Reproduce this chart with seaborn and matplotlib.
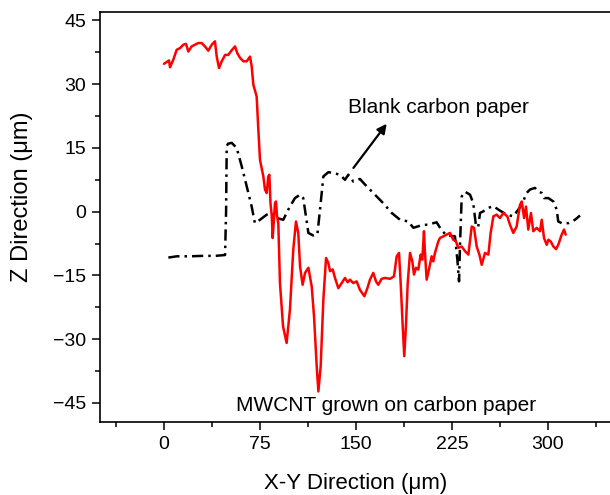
import matplotlib
matplotlib.use("Agg")
import matplotlib.pyplot as plt
import seaborn as sns
import pandas as pd
from matplotlib.ticker import MultipleLocator

# ---- data ----
mwcnt_x = [0, 3.9, 4.7, 7.3, 9.9, 12.5, 15.1, 17.2, 19, 21.6, 24.2, 26.8, 29.4, 32, 34.6, 37.3,
           39.8, 41.2, 43, 45.1, 47.7, 50.2, 52.9, 55.5, 57.3, 59.4, 62, 64.6, 67.2, 68.5, 69.8,
           72.4, 73.7, 75, 77.6, 78.9, 80.2, 81.5, 82.3, 83.2, 84.2, 84.9, 85.8, 86.7, 87.5, 88.3,
           89.3, 90.6, 93, 95.8, 98.4, 101, 103.1, 104.9, 106.3, 108.3, 110.2, 112.8, 115.4,
           117.2, 119.3, 120.6, 122.4, 124.5, 126.6, 128.4, 129.7, 131.8, 133.6, 136.2, 138.8,
           141.4, 143.5, 145.3, 147.9, 150.5, 153.1, 156.5, 158.9, 160.9, 163.5, 165.6, 167.4,
           170, 172.7, 176.6, 179.7, 181.8, 183.6, 184.9, 186.5, 187.7, 189, 190.4, 192.2, 194,
           195.3, 196.9, 198.7, 200.5, 201.8, 203.1, 203.9, 205.2, 207, 209.1, 210.4, 211.7,
           214.3, 215.6, 218.2, 220.9, 223.4, 226, 228.1, 229.9, 232.6, 235.2, 237.8, 240.4,
           242.2, 244.3, 246.4, 248.2, 250.8, 253.4, 255.2, 257.3, 259.9, 262.5, 265.1, 268.2,
           270.3, 272.9, 275.5, 278.1, 279.5, 281.3, 282.8, 284.6, 286.7, 288.5, 291.2, 293.8,
           295.1, 296.9, 299, 300.3, 302.1, 304.2, 306.3, 308, 310.7, 312.5, 313.8]
mwcnt_z = [34.8, 35.6, 34.0, 35.8, 38.1, 38.5, 39.3, 39.5, 37.7, 38.9, 39.3, 39.7, 39.7, 38.9,
           37.9, 39.3, 40.1, 36.5, 33.8, 35.4, 36.9, 36.9, 38.0, 38.9, 37.3, 36.2, 35.4, 35.4,
           36.5, 34.2, 29.9, 27.1, 19.3, 12.2, 8.3, 5.2, 4.4, 8.3, 8.7, 2.0, -1.0, -6.2, -2.0,
           2.0, 2.4, -1.0, -2.7, -16.8, -27.0, -30.9, -23.0, -8.9, -2.3, -5.0, -12.9, -17.2,
           -14.4, -13.2, -17.6, -24.6, -36.4, -42.3, -36.4, -20.7, -10.9, -12.1, -14.0, -13.6,
           -15.6, -18.0, -16.8, -15.6, -16.6, -16.0, -16.8, -16.4, -18.4, -19.9, -18.0, -16.0,
           -14.4, -16.4, -17.2, -15.8, -15.6, -15.8, -15.2, -10.5, -9.7, -16.8, -27.0, -34.0,
           -27.0, -16.8, -9.7, -11.7, -14.8, -13.2, -13.6, -10.1, -11.3, -4.6, -9.7, -16.0,
           -13.6, -10.5, -11.7, -9.7, -7.0, -6.2, -5.8, -5.4, -5.0, -6.6, -7.0, -8.5, -8.2,
           -9.3, -10.1, -3.5, -3.8, -8.2, -10.1, -12.5, -9.7, -10.1, -5.0, -1.1, -0.7, -1.5,
           -0.3, -1.1, -3.1, -5.0, -3.5, 1.6, 2.4, -1.5, 1.2, -4.2, -0.3, -4.6, -3.8, -4.6,
           -1.9, -6.2, -7.8, -6.6, -7.0, -8.2, -8.8, -7.8, -5.4, -4.2, -5.4]

blank_x = [3.4, 10, 20, 30, 40, 47.7, 48.5, 49, 50, 52.9, 56.8, 60.7, 64.6, 68.5, 71, 75, 80.2,
           84.1, 88, 93.2, 97.1, 102.3, 106.3, 108.8, 110.9, 112.8, 116.6, 119.8, 121.9, 124.5,
           128.4, 132.3, 137.5, 141.4, 144, 147.9, 153.1, 157, 163.5, 171.3, 177.9, 184.4,
           190.9, 194.8, 200, 206.5, 213, 216.9, 220.9, 227.3, 229.2, 230.5, 231.3, 232.6,
           235.2, 239.1, 241.6, 243.8, 245.5, 246.9, 249.5, 253.4, 257.3, 261.2, 267.7, 272.9,
           276.8, 279.5, 283.3, 285.9, 289.8, 292.4, 295.1, 296.9, 300.3, 304.2, 306.8, 308,
           310.7, 315.9, 321.1, 325]
blank_z = [-10.8, -10.5, -10.5, -10.4, -10.4, -10.2, 0.0, 15.4, 16.0, 16.2, 15.0, 10.7, 6.0, 1.2,
           -2.7, -1.9, -0.7, -0.3, -1.5, -1.9, 0.5, 3.2, 4.0, 3.2, -1.1, -5.0, -5.6, -5.4, 0.5,
           8.3, 9.3, 9.1, 8.7, 7.5, 8.7, 7.1, 7.7, 6.4, 4.4, 2.0, -0.3, -1.9, -2.3, -3.8, -3.3,
           -3.0, -2.5, -4.4, -5.6, -5.8, -11.3, -16.4, -7.4, 3.6, 4.7, 4.0, 2.0, -3.5, -3.5,
           -0.3, 0.1, 0.9, 1.3, 0.5, -0.7, -1.1, 0.5, 1.6, 4.4, 5.2, 5.6, 4.8, 4.4, 3.2, 3.2,
           2.4, 0.5, -2.3, -2.7, -2.7, -1.9, -0.9]

x_ticks = [0, 75, 150, 225, 300]
y_ticks = [-45, -30, -15, 0, 15, 30, 45]
label_mwcnt = "MWCNT grown on carbon paper"
label_blank = "Blank carbon paper"

# ---- plot ----
sns.set_theme(style="ticks")
plt.rcParams["font.family"] = ["Liberation Sans", "DejaVu Sans"]

fig = plt.figure(figsize=(6.1, 4.95), dpi=100)
ax = fig.add_axes([100 / 610, 73 / 495, 512 / 610, 410 / 495])

df_m = pd.DataFrame({"x": mwcnt_x, "z": mwcnt_z})
df_b = pd.DataFrame({"x": blank_x, "z": blank_z})

sns.lineplot(data=df_b, x="x", y="z", ax=ax, color="black", linewidth=1.8,
             estimator=None, sort=False, linestyle=(0, (4.5, 2, 1, 2)))
sns.lineplot(data=df_m, x="x", y="z", ax=ax, color="#ff0000", linewidth=1.8,
             estimator=None, sort=False)

ax.set_xlim(-50, 350)
ax.set_ylim(-49.5, 47)
ax.set_xticks(x_ticks)
ax.set_yticks(y_ticks)
ax.xaxis.set_minor_locator(MultipleLocator(37.5))
ax.yaxis.set_minor_locator(MultipleLocator(7.5))
ax.tick_params(which="major", direction="out", length=6, width=1.1, labelsize=14,
               color="black", labelcolor="black", pad=4)
ax.tick_params(which="minor", direction="out", length=3.5, width=1.1, color="black")
ax.tick_params(top=False, right=False, which="both")

for s in ax.spines.values():
    s.set_linewidth(1.2)
    s.set_color("black")
ax.spines["right"].set_visible(False)

ax.set_xlabel("X-Y Direction (\u03bcm)", fontsize=16, color="black")
ax.set_ylabel("Z Direction (\u03bcm)", fontsize=17, color="black")
ax.xaxis.set_label_coords(0.5, -0.124)
ax.yaxis.set_label_coords(-0.131, 0.55)

ax.text(56.3, -45.6, label_mwcnt, fontsize=15, ha="left", va="center", color="black")
ax.text(143.8, 24.5, label_blank, fontsize=15, ha="left", va="center", color="black")
ax.annotate("", xy=(174, 20.7), xytext=(148, 10.3),
            arrowprops=dict(arrowstyle="-|>", color="black", lw=1.6,
                            mutation_scale=14, shrinkA=0, shrinkB=0))

fig.savefig("out.png", dpi=100)
